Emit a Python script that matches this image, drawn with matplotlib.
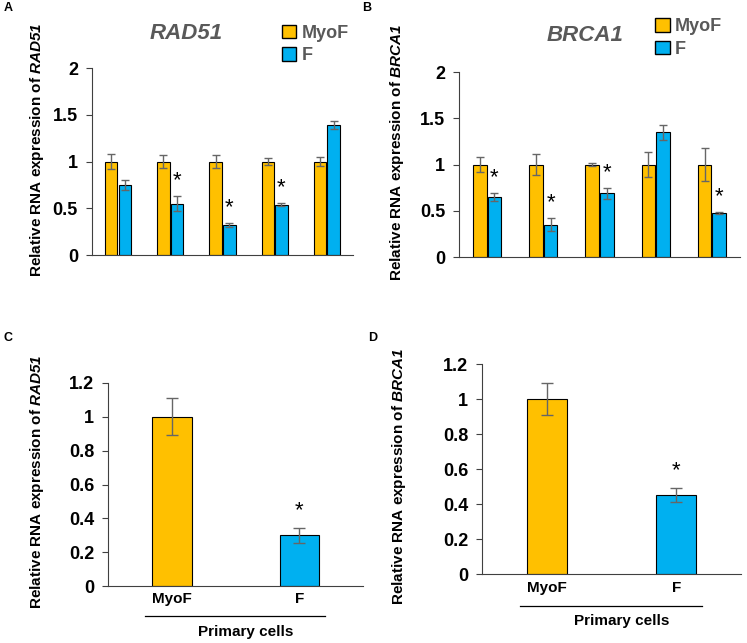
import numpy as np
import matplotlib
matplotlib.use("Agg")
import matplotlib.pyplot as plt
from matplotlib.patches import Patch

plt.rcParams['mathtext.fontset'] = 'custom'
plt.rcParams['mathtext.it'] = 'Liberation Sans:bold:italic'
plt.rcParams['mathtext.rm'] = 'Liberation Sans:bold:italic'

# data
rad51_myof = [1, 1, 1, 1, 1]
rad51_myof_err = [0.08, 0.07, 0.07, 0.04, 0.05]
rad51_f = [0.75, 0.55, 0.32, 0.54, 1.39]
rad51_f_err = [0.05, 0.08, 0.02, 0.02, 0.04]
rad51_star = [False, True, True, True, False]

brca1_myof = [1, 1, 1, 1, 1]
brca1_myof_err = [0.08, 0.11, 0.02, 0.13, 0.18]
brca1_f = [0.65, 0.35, 0.69, 1.35, 0.48]
brca1_f_err = [0.04, 0.07, 0.06, 0.08, 0.01]
brca1_star = [True, True, True, False, True]

cells = ['MyoF', 'F']
rad51_primary = [1.0, 0.30]
rad51_primary_err = [0.11, 0.045]
brca1_primary = [1.0, 0.45]
brca1_primary_err = [0.09, 0.04]

orange = '#FFC000'
blue = '#00B0F0'
gray = '#595959'

fig = plt.figure(figsize=(7.47, 6.43), dpi=100)


def style(ax, yticks):
    for s in ['top', 'right']:
        ax.spines[s].set_visible(False)
    ax.spines['left'].set_color('#404040')
    ax.spines['bottom'].set_color('#404040')
    ax.set_xticks([])
    ax.set_yticks(yticks)
    ax.set_yticklabels([('%g' % t) for t in yticks])
    for t in ax.get_yticklabels():
        t.set_fontfamily('Liberation Sans')
        t.set_fontweight('bold')
        t.set_fontsize(13)
    ax.tick_params(axis='y', length=4, color='#404040', pad=6)


def grouped(rect, gene, myof, myof_err, f, f_err, stars, title_pos, leg_pos):
    ax = fig.add_axes(rect)
    x = np.arange(len(myof))
    w = 0.24
    ekw = dict(ecolor='#666666', capsize=3, elinewidth=1, capthick=1)
    ax.bar(x - w / 2 - 0.01, myof, w, yerr=myof_err, color=orange,
           edgecolor='black', linewidth=0.8, error_kw=ekw)
    ax.bar(x + w / 2 + 0.01, f, w, yerr=f_err, color=blue,
           edgecolor='black', linewidth=0.8, error_kw=ekw)
    for i in range(len(f)):
        if stars[i]:
            ax.text(x[i] + w / 2 + 0.01, f[i] + f_err[i] + 0.05, '*',
                    ha='center', va='bottom', fontsize=16,
                    family='Liberation Sans')
    ax.set_xlim(-0.5, 4.5)
    ax.set_ylim(0, 2)
    style(ax, [0, 0.5, 1, 1.5, 2])
    ax.text(title_pos[0], title_pos[1], gene, transform=ax.transAxes,
            ha='center', va='center', fontsize=16, color=gray,
            family='Liberation Sans', weight='bold', style='italic')
    handles = [Patch(facecolor=orange, edgecolor='black'),
               Patch(facecolor=blue, edgecolor='black')]
    ax.legend(handles, ['MyoF', 'F'], loc='upper left',
              bbox_to_anchor=leg_pos, frameon=False,
              handlelength=0.8, handleheight=0.8, handletextpad=0.3,
              labelspacing=0.3,
              prop=dict(family='Liberation Sans', weight='bold', size=13),
              labelcolor=gray)
    return ax


def primary(rect, vals, errs):
    ax = fig.add_axes(rect)
    x = np.arange(len(vals))
    ekw = dict(ecolor='#666666', capsize=4, elinewidth=1, capthick=1)
    ax.bar(x, vals, 0.31, yerr=errs, color=[orange, blue],
           edgecolor='black', linewidth=0.8, error_kw=ekw)
    ax.text(x[1], vals[1] + errs[1] + 0.04, '*', ha='center', va='bottom',
            fontsize=16, family='Liberation Sans')
    ax.set_xlim(-0.5, 1.5)
    ax.set_ylim(0, 1.2)
    style(ax, [0, 0.2, 0.4, 0.6, 0.8, 1, 1.2])
    tr = ax.get_xaxis_transform()
    for i, c in enumerate(cells):
        ax.text(x[i], -0.065, c, transform=tr, ha='center', va='center',
                fontsize=11, family='Liberation Sans', weight='bold')
    ax.plot([-0.21, 1.2], [-0.15, -0.15], transform=tr, color='black',
            lw=0.9, clip_on=False)
    ax.text(0.58, -0.225, 'Primary cells', transform=tr, ha='center',
            va='center', fontsize=11, family='Liberation Sans', weight='bold')
    return ax


grouped([0.123, 0.6034, 0.3496, 0.2906], 'RAD51',
        rad51_myof, rad51_myof_err, rad51_f, rad51_f_err, rad51_star,
        (0.36, 1.187), (0.665, 1.32))
grouped([0.6145, 0.6003, 0.3761, 0.2877], 'BRCA1',
        brca1_myof, brca1_myof_err, brca1_f, brca1_f_err, brca1_star,
        (0.45, 1.2), (0.64, 1.38))
primary([0.1446, 0.0886, 0.3414, 0.3158], rad51_primary, rad51_primary_err)
primary([0.6452, 0.1073, 0.3468, 0.3266], brca1_primary, brca1_primary_err)

lab = dict(rotation=90, ha='center', va='center', fontsize=11,
           family='Liberation Sans', weight='bold')
fig.text(37 / 747, 1 - 150 / 643, 'Relative RNA expression of $\\mathit{RAD51}$', **lab)
fig.text(397 / 747, 1 - 152 / 643, 'Relative RNA expression of $\\mathit{BRCA1}$', **lab)
fig.text(37 / 747, 1 - 482 / 643, 'Relative RNA expression of $\\mathit{RAD51}$', **lab)
fig.text(399 / 747, 1 - 476 / 643, 'Relative RNA expression of $\\mathit{BRCA1}$', **lab)

pl = dict(fontsize=9, family='Liberation Sans', weight='bold', va='top')
fig.text(4 / 747, 1 - 2 / 643, 'A', **pl)
fig.text(362 / 747, 1 - 2 / 643, 'B', **pl)
fig.text(4 / 747, 1 - 332 / 643, 'C', **pl)
fig.text(368 / 747, 1 - 332 / 643, 'D', **pl)

fig.savefig('out.png', dpi=100)
